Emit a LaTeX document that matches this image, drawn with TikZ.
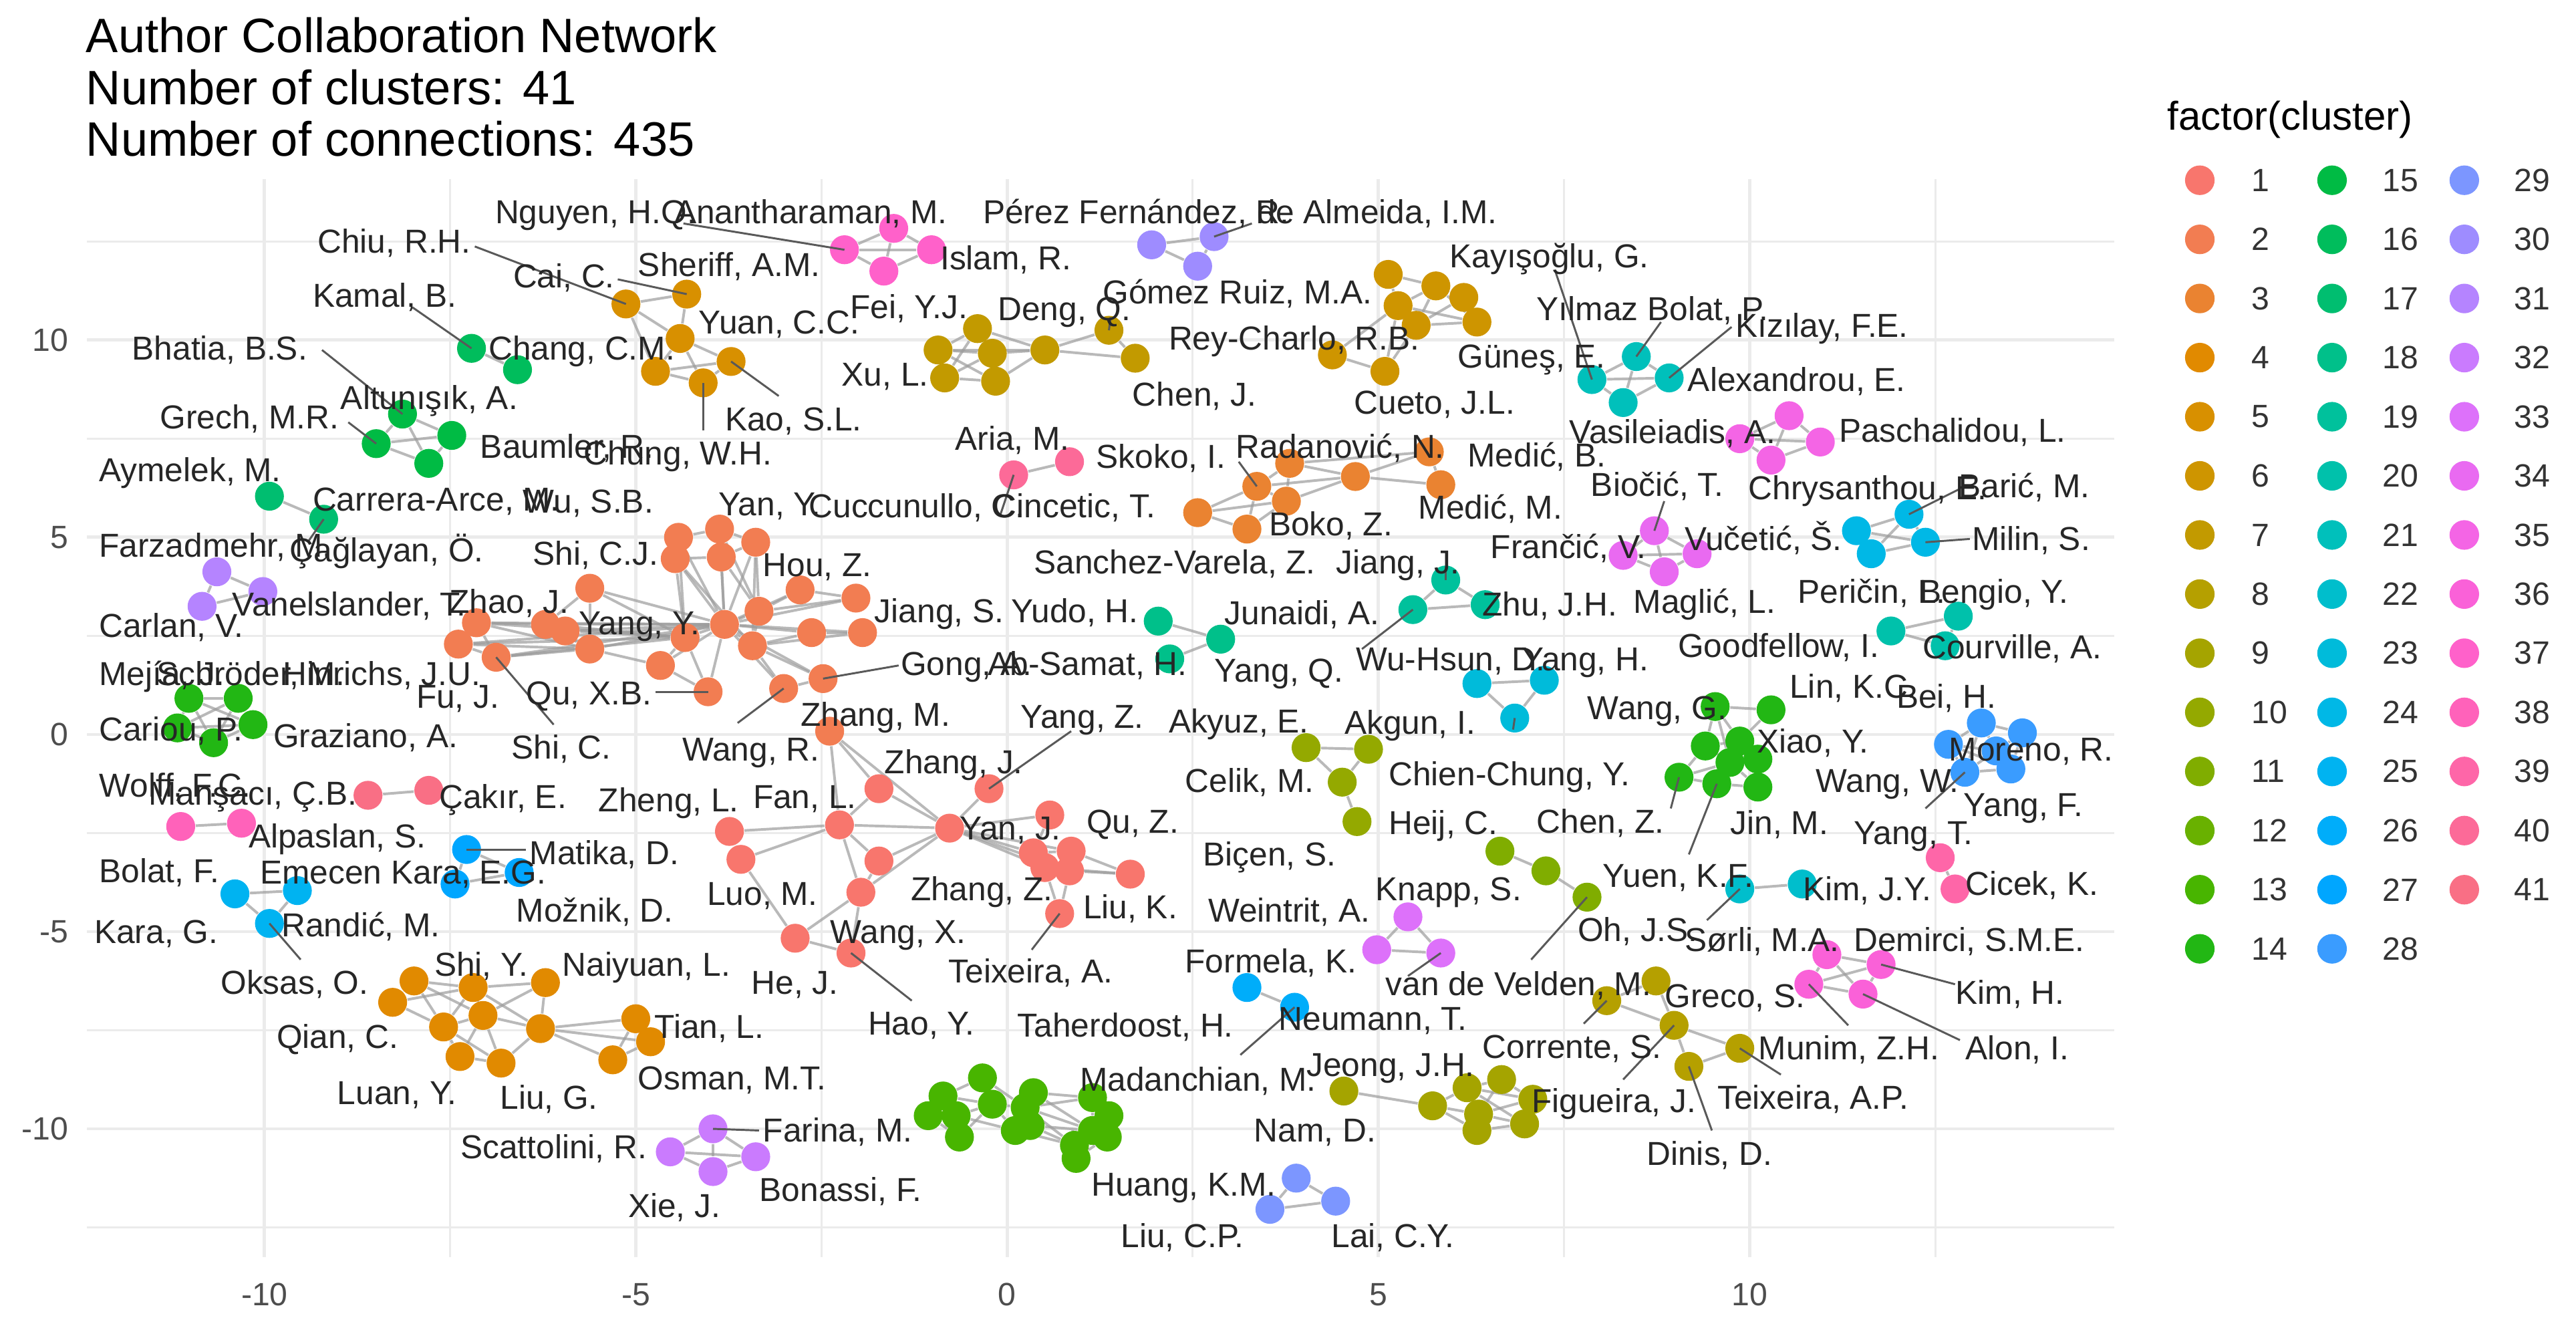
\documentclass[tikz,border=0pt]{standalone}
\usepackage{fontspec}
\setmainfont{Liberation Sans}
\pgfdeclarelayer{gridl}
\pgfdeclarelayer{edgel}
\pgfsetlayers{gridl,edgel,main}
\definecolor{c1}{HTML}{F8766D}\definecolor{c2}{HTML}{F27D52}\definecolor{c3}{HTML}{EA8331}
\definecolor{c4}{HTML}{E18A00}\definecolor{c5}{HTML}{D89000}\definecolor{c6}{HTML}{CE9500}
\definecolor{c7}{HTML}{C29A00}\definecolor{c8}{HTML}{B5A000}\definecolor{c9}{HTML}{A5A400}
\definecolor{c10}{HTML}{94A900}\definecolor{c11}{HTML}{80AD00}\definecolor{c12}{HTML}{69B100}
\definecolor{c13}{HTML}{48B500}\definecolor{c14}{HTML}{22B714}\definecolor{c15}{HTML}{00BB44}
\definecolor{c16}{HTML}{00BD5C}\definecolor{c17}{HTML}{00BE70}\definecolor{c18}{HTML}{00C08A}
\definecolor{c19}{HTML}{00C19C}\definecolor{c20}{HTML}{00C1AB}\definecolor{c21}{HTML}{00C0BB}
\definecolor{c22}{HTML}{00BECC}\definecolor{c23}{HTML}{00BBDA}\definecolor{c24}{HTML}{00B8E6}
\definecolor{c25}{HTML}{00B3F1}\definecolor{c26}{HTML}{00ADFA}\definecolor{c27}{HTML}{00A6FF}
\definecolor{c28}{HTML}{3A9CFF}\definecolor{c29}{HTML}{7C96FF}\definecolor{c30}{HTML}{9E8CFF}
\definecolor{c31}{HTML}{B584FF}\definecolor{c32}{HTML}{CA7BFE}\definecolor{c33}{HTML}{DD71FA}
\definecolor{c34}{HTML}{E96AF1}\definecolor{c35}{HTML}{F465E5}\definecolor{c36}{HTML}{FA61D8}
\definecolor{c37}{HTML}{FF61CA}\definecolor{c38}{HTML}{FF62BA}\definecolor{c39}{HTML}{FE66A8}
\definecolor{c40}{HTML}{FC6A98}\definecolor{c41}{HTML}{F96F85}
\definecolor{edgec}{HTML}{9C9C9C}
\definecolor{gridc}{HTML}{EBEBEB}
\definecolor{tickc}{HTML}{4D4D4D}
\tikzset{
  pnt/.style={circle, inner sep=0pt, minimum size=8.8pt, fill=#1, draw=none},
  lnk/.style={draw=edgec, line width=0.8pt, opacity=0.7},
  ldr/.style={draw=black!65, line width=0.6pt},
  lab/.style={anchor=base west, inner sep=0pt, font=\fontsize{10.1}{12}\selectfont, text=black!85},
  tck/.style={inner sep=0pt, font=\fontsize{9.8}{11}\selectfont, text=tickc},
  majgrid/.style={draw=gridc, line width=1pt},
  mingrid/.style={draw=gridc, line width=0.6pt},
}
\begin{document}
\begin{tikzpicture}[x=0.5pt,y=-0.5pt]
\useasboundingbox (0,0) rectangle (1568,813);
% background and grid
\begin{pgfonlayer}{gridl}
\fill[white] (0,0) rectangle (1568,813);
\foreach \x in {274,500,726,952,1178} \draw[mingrid] (\x,109) -- (\x,765);
\foreach \y in {147,267,387,507,627,747} \draw[mingrid] (53,\y) -- (1287,\y);
\foreach \x in {161,387,613,839,1065} \draw[majgrid] (\x,109) -- (\x,765);
\foreach \y in {207,327,447,567,687} \draw[majgrid] (53,\y) -- (1287,\y);
\end{pgfonlayer}
% axis tick labels
\foreach \v/\y in {10/207,5/327,0/447,-5/567,-10/687} \node[tck,anchor=east] (yt\y) at (42,\y) {\v};
\foreach \v/\x in {-10/161,-5/387,0/613,5/839,10/1065} \node[tck] (xt\x) at (\x,788) {\v};
% title
\node[anchor=base west, inner sep=0pt, font=\fontsize{14.7}{16}\selectfont] (ttl1) at (52,32) {Author Collaboration Network};
\node[anchor=base west, inner sep=0pt, font=\fontsize{14.7}{16}\selectfont] (ttl2) at (52,63.5) {Number of clusters: 41};
\node[anchor=base west, inner sep=0pt, font=\fontsize{14.7}{16}\selectfont] (ttl3) at (52,95) {Number of connections: 435};
% points
\foreach \n/\x/\y in {A1/535/480,A2/602/480,A3/511/502,A4/578/504,A5/444/506,A6/451/523,A7/535/524,A8/639/496,A9/629/519,A10/652/518,A11/651/530,A12/688/532,A13/524/543,A14/645/556,A15/484/571,A16/518/580,A17/636/528} \node[pnt=c1] (\n) at (\x,\y) {};
\foreach \n/\x/\y in {B1/359/358,B2/290/379,B3/279/392,B4/332/380,B5/344/384,B6/302/400,B7/359/395,B8/402/405,B9/417/388,B10/431/421,B11/413/327,B12/411/340,B13/438/322,B14/439/339,B15/441/380,B16/460/330,B17/462/372,B18/458/393,B19/487/359,B20/521/364,B21/494/385,B22/525/385,B23/501/413,B24/477/419,ZM/505/445} \node[pnt=c2] (\n) at (\x,\y) {};
\foreach \n/\x/\y in {C1/729/312,C2/759/322,C3/765/296,C4/783/305,C5/785/282,C6/825/290,C7/870/275,C8/877/295} \node[pnt=c3] (\n) at (\x,\y) {};
\foreach \n/\x/\y in {D1/239/610,D2/252/597,D3/288/601,D4/294/618,D5/270/625,D6/329/626,D7/332/598,D8/280/643,D9/305/647,D10/387/620,D11/396/634,D12/373/645} \node[pnt=c4] (\n) at (\x,\y) {};
\foreach \n/\x/\y in {E1/381/185,E2/418/179,E3/414/206,E4/445/220,E5/399/226,E6/428/233} \node[pnt=c5] (\n) at (\x,\y) {};
\foreach \n/\x/\y in {F1/811/216,F2/843/226,F3/845/167,F4/851/186,F5/862/198,F6/874/174,F7/891/181,F8/899/196} \node[pnt=c6] (\n) at (\x,\y) {};
\foreach \n/\x/\y in {G1/571/213,G2/575/230,G3/595/200,G4/604/215,G5/606/232,G6/636/213,G7/675/201,G8/691/218} \node[pnt=c7] (\n) at (\x,\y) {};
\foreach \n/\x/\y in {H1/978/609,H2/1008/597,H3/1019/624,H4/1059/638,H5/1028/649} \node[pnt=c8] (\n) at (\x,\y) {};
\foreach \n/\x/\y in {I1/818/664,I2/872/673,I3/893/662,I4/914/657,I5/933/669,I6/900/678,I7/928/684,I8/899/688} \node[pnt=c9] (\n) at (\x,\y) {};
\foreach \n/\x/\y in {J1/795/455,J2/833/456,J3/817/476,J4/826/500} \node[pnt=c10] (\n) at (\x,\y) {};
\foreach \n/\x/\y in {K1/913/518,K2/941/530,K3/966/546} \node[pnt=c11] (\n) at (\x,\y) {};
\foreach \n/\x/\y in {L1/574/667,L2/598/656,L3/582/679,L4/584/692,L5/565/679,L6/624/674,L7/629/665,L8/618/688,L9/627/685,L10/665/668,L11/675/679,L12/674/692,L13/654/697,L14/655/705,L15/665/688,L16/604/672} \node[pnt=c13] (\n) at (\x,\y) {};
\foreach \n/\x/\y in {M1/1044/430,M2/1078/432,M3/1038/454,M4/1059/451,M5/1070/462,M6/1022/473,M7/1045/477,M8/1070/479,M9/1053/464} \node[pnt=c14] (\n) at (\x,\y) {};
\foreach \n/\x/\y in {N1/115/425,N2/145/425,N3/108/443,N4/154/441,N5/130/452} \node[pnt=c14] (\n) at (\x,\y) {};
\foreach \n/\x/\y in {O1/245/252,O2/229/270,O3/275/265,O4/261/282} \node[pnt=c15] (\n) at (\x,\y) {};
\foreach \n/\x/\y in {P1/287/212,P2/315/225} \node[pnt=c16] (\n) at (\x,\y) {};
\foreach \n/\x/\y in {Q1/164/302,Q2/197/316} \node[pnt=c17] (\n) at (\x,\y) {};
\foreach \n/\x/\y in {R1/705/378,R2/743/389,R3/712/401} \node[pnt=c18] (\n) at (\x,\y) {};
\foreach \n/\x/\y in {S1/880/353,S2/860/371,S3/904/368} \node[pnt=c19] (\n) at (\x,\y) {};
\foreach \n/\x/\y in {T1/1151/384,T2/1192/375,T3/1184/393} \node[pnt=c20] (\n) at (\x,\y) {};
\foreach \n/\x/\y in {U1/996/217,U2/969/231,U3/1016/230,U4/988/245} \node[pnt=c21] (\n) at (\x,\y) {};
\foreach \n/\x/\y in {V1/1059/541,V2/1097/538} \node[pnt=c22] (\n) at (\x,\y) {};
\foreach \n/\x/\y in {W1/899/416,W2/940/414,W3/922/437} \node[pnt=c23] (\n) at (\x,\y) {};
\foreach \n/\x/\y in {X1/1162/313,X2/1130/323,X3/1172/330,X4/1139/337} \node[pnt=c24] (\n) at (\x,\y) {};
\foreach \n/\x/\y in {Y1/143/544,Y2/181/542,Y3/164/562} \node[pnt=c25] (\n) at (\x,\y) {};
\foreach \n/\x/\y in {Z1/759/601,Z2/788/613} \node[pnt=c26] (\n) at (\x,\y) {};
\foreach \n/\x/\y in {AA1/284/517,AA2/277/538,AA3/316/531} \node[pnt=c27] (\n) at (\x,\y) {};
\foreach \n/\x/\y in {AB1/1206/440,AB2/1231/446,AB3/1186/453,AB4/1215/457,AB5/1196/470,AB6/1224/468} \node[pnt=c28] (\n) at (\x,\y) {};
\foreach \n/\x/\y in {AC1/789/717,AC2/773/736,AC3/813/731} \node[pnt=c29] (\n) at (\x,\y) {};
\foreach \n/\x/\y in {AD1/701/149,AD2/739/144,AD3/729/162} \node[pnt=c30] (\n) at (\x,\y) {};
\foreach \n/\x/\y in {AE1/132/348,AE2/160/360,AE3/123/369} \node[pnt=c31] (\n) at (\x,\y) {};
\foreach \n/\x/\y in {AF1/408/701,AF2/434/687,AF3/460/704,AF4/434/713} \node[pnt=c32] (\n) at (\x,\y) {};
\foreach \n/\x/\y in {AG1/857/558,AG2/838/578,AG3/877/580} \node[pnt=c33] (\n) at (\x,\y) {};
\foreach \n/\x/\y in {AH1/1007/323,AH2/988/338,AH3/1033/337,AH4/1013/348} \node[pnt=c34] (\n) at (\x,\y) {};
\foreach \n/\x/\y in {AI1/1089/253,AI2/1059/267,AI3/1108/269,AI4/1078/280} \node[pnt=c35] (\n) at (\x,\y) {};
\foreach \n/\x/\y in {AJ1/1112/581,AJ2/1145/587,AJ3/1101/599,AJ4/1134/605} \node[pnt=c36] (\n) at (\x,\y) {};
\foreach \n/\x/\y in {AK1/544/139,AK2/514/152,AK3/567/152,AK4/538/165} \node[pnt=c37] (\n) at (\x,\y) {};
\foreach \n/\x/\y in {AL1/110/503,AL2/147/501} \node[pnt=c38] (\n) at (\x,\y) {};
\foreach \n/\x/\y in {AM1/1181/522,AM2/1190/541} \node[pnt=c39] (\n) at (\x,\y) {};
\foreach \n/\x/\y in {AN1/617/289,AN2/651/281} \node[pnt=c40] (\n) at (\x,\y) {};
\foreach \n/\x/\y in {AO1/224/484,AO2/261/481} \node[pnt=c41] (\n) at (\x,\y) {};
% edges
\begin{pgfonlayer}{edgel}
\foreach \a/\b in {ZM/A1,ZM/A3,ZM/A4,A1/A3,A1/A4,A3/A4,A3/A5,A5/A6,A3/A6,A3/A7,A4/A7,A2/A4,A4/A8,A4/A9,A4/A10,A4/A11,A4/A17,A8/A9,A9/A10,A10/A12,A11/A12,A17/A12,A4/A13,A7/A13,A3/A13,A13/A15,A13/A16,A15/A16,A11/A14,A17/A14,A9/A17,A10/A11,A6/A15} \draw[lnk] (\a) -- (\b);
\foreach \b in {B1,B2,B3,B4,B5,B6,B7,B8,B9,B10,B11,B12,B13,B14,B16,B17,B18,B19,B20,B21,B22,B23,B24} \draw[lnk] (B15) -- (\b);
\foreach \a/\b in {B1/B9,B2/B4,B2/B6,B3/B6,B2/B7,B3/B7,B4/B7,B5/B9,B6/B7,B6/B9,B7/B8,B8/B9,B2/B9,B3/B9,B4/B9,B11/B12,B11/B13,B12/B14,B13/B14,B13/B16,B14/B16,B12/B18,B13/B17,B16/B17,B17/B19,B17/B20,B18/B21,B18/B22,B19/B20,B21/B22,B17/B18,B18/B23,B18/B24,B23/B24,B8/B10,B9/B10,B12/B9,B11/B9,B14/B17,B16/B18,B1/B4,B1/B7} \draw[lnk] (\a) -- (\b);
\foreach \a/\b in {C1/C3,C1/C2,C2/C3,C3/C5,C3/C4,C4/C5,C2/C4,C3/C6,C4/C6,C5/C6,C6/C7,C6/C8,C7/C8,C5/C7,C1/C4} \draw[lnk] (\a) -- (\b);
\foreach \a/\b in {D1/D2,D1/D3,D2/D3,D1/D5,D2/D5,D3/D4,D3/D5,D3/D7,D4/D6,D4/D5,D5/D8,D4/D9,D6/D7,D6/D9,D8/D9,D6/D10,D6/D11,D6/D12,D10/D11,D10/D12,D11/D12,D3/D6,D4/D7,D2/D4,D5/D9,D4/D8} \draw[lnk] (\a) -- (\b);
\foreach \a/\b in {E1/E2,E1/E3,E2/E3,E3/E4,E3/E5,E3/E6,E4/E5,E4/E6,E5/E6,E1/E5} \draw[lnk] (\a) -- (\b);
\foreach \a/\b in {F1/F2,F1/F4,F2/F5,F3/F4,F3/F6,F4/F6,F4/F5,F5/F6,F5/F7,F6/F7,F7/F8,F5/F8,F4/F8,F6/F8,F2/F4} \draw[lnk] (\a) -- (\b);
\foreach \a/\b in {G1/G2,G1/G3,G1/G4,G1/G5,G2/G3,G2/G4,G2/G5,G3/G4,G3/G5,G4/G5,G4/G6,G3/G6,G5/G6,G1/G6,G6/G7,G6/G8,G7/G8} \draw[lnk] (\a) -- (\b);
\foreach \a/\b in {H1/H2,H1/H3,H2/H3,H3/H4,H3/H5,H4/H5} \draw[lnk] (\a) -- (\b);
\foreach \a/\b in {I1/I2,I2/I3,I2/I6,I2/I8,I3/I4,I3/I5,I3/I6,I4/I5,I5/I6,I5/I7,I6/I7,I6/I8,I7/I8,I3/I7,I4/I6,I3/I8} \draw[lnk] (\a) -- (\b);
\foreach \a/\b in {J1/J2,J1/J3,J2/J3,J3/J4,K1/K2,K2/K3} \draw[lnk] (\a) -- (\b);
\foreach \a/\b in {L1/L2,L1/L3,L1/L5,L2/L16,L3/L4,L3/L16,L5/L4,L5/L3,L16/L6,L16/L8,L6/L7,L6/L9,L7/L10,L6/L10,L9/L13,L8/L9,L10/L11,L11/L12,L12/L15,L13/L14,L13/L15,L10/L15,L14/L12,L9/L15,L3/L8,L2/L6,L1/L16,L7/L15,L6/L13,L8/L13,L6/L15,L11/L15,L14/L15,L4/L16} \draw[lnk] (\a) -- (\b);
\foreach \a/\b in {M1/M2,M1/M4,M1/M3,M2/M4,M3/M9,M4/M9,M5/M9,M6/M9,M7/M9,M8/M9,M3/M6,M6/M7,M7/M8,M5/M8,M4/M5,M3/M4,M1/M9} \draw[lnk] (\a) -- (\b);
\foreach \a/\b in {N1/N2,N1/N4,N2/N3,N3/N4,N3/N5,N4/N5,N1/N5,N2/N5,N1/N3,N2/N4,O1/O2,O1/O3,O2/O3,O2/O4,O3/O4,O1/O4} \draw[lnk] (\a) -- (\b);
\foreach \a/\b in {P1/P2,Q1/Q2,R1/R2,R2/R3,S1/S2,S1/S3,S2/S3,T1/T2,T1/T3,T2/T3,U1/U2,U1/U4,U2/U3,U2/U4,U3/U4,U1/U3,V1/V2,W1/W2,W1/W3,W2/W3,X1/X2,X1/X3,X1/X4,X2/X3,X2/X4,X3/X4,Y1/Y2,Y1/Y3,Y2/Y3,Z1/Z2} \draw[lnk] (\a) -- (\b);
\foreach \a/\b in {AA1/AA2,AA1/AA3,AA2/AA3,AB1/AB2,AB1/AB3,AB1/AB4,AB2/AB4,AB3/AB4,AB3/AB5,AB4/AB5,AB4/AB6,AB5/AB6,AB2/AB6,AB1/AB5,AB3/AB6,AC1/AC3,AC2/AC3,AC1/AC2,AD1/AD2,AD1/AD3,AD2/AD3,AE1/AE2,AE2/AE3,AE1/AE3} \draw[lnk] (\a) -- (\b);
\foreach \a/\b in {AF1/AF2,AF1/AF3,AF1/AF4,AF2/AF3,AF2/AF4,AF3/AF4,AG1/AG2,AG1/AG3,AG2/AG3,AH1/AH2,AH1/AH3,AH1/AH4,AH2/AH3,AH2/AH4,AH3/AH4,AI1/AI2,AI1/AI3,AI1/AI4,AI2/AI3,AI2/AI4,AI3/AI4} \draw[lnk] (\a) -- (\b);
\foreach \a/\b in {AJ1/AJ2,AJ1/AJ3,AJ1/AJ4,AJ2/AJ3,AJ2/AJ4,AJ3/AJ4,AK1/AK2,AK1/AK3,AK1/AK4,AK2/AK3,AK2/AK4,AK3/AK4,AL1/AL2,AM1/AM2,AN1/AN2,AO1/AO2} \draw[lnk] (\a) -- (\b);
\end{pgfonlayer}
% leader segments
\foreach \n/\x/\y/\p in {l1/289/150/E1,l2/376/170/E2,l3/416/136/AK2,l4/762/136/AD2,l5/251/187/P1,l6/676/193/G7,l7/947/166/U2,l8/1011/196/U1,l9/1054/199/U3,l10/196/213/O1,l11/212/257/O2,l12/474/241/E4,l13/428/262/E6,l14/754/281/C3,l15/1013/305/AH1,l16/1192/298/X1,l17/609/313/AN1,l18/1199/328/X3,l19/880/345/S1,l20/829/395/S2,l21/547/405/B23,l22/399/421/B10,l23/652/445/A2,l24/337/441/B6,l25/449/440/B24,l26/921/444/W3,l27/1172/492/AB5,l28/1017/492/M6,l29/320/517/AA1,l30/1028/520/M7,l31/1039/560/V1,l32/628/578/A14,l33/183/584/Y3,l34/932/584/K3,l35/857/594/AG3,l36/1190/599/AJ2,l37/555/609/A16,l38/755/642/Z2,l39/964/623/H1,l40/1125/624/AJ3,l41/1193/633/AJ4,l42/1084/654/H4,l43/988/657/H3,l44/462/688/AF2,l45/1042/688/H5,l46/188/329/Q2}
  {\coordinate (\n) at (\x,\y); \draw[ldr] (\n) -- (\p.center);}
% labels
\foreach \n/\x/\y/\t in {t1/193/147/{Chiu, R.H.},t2/312/168/{Cai, C.},t3/388/161/{Sheriff, A.M.},t4/301/129/{Nguyen, H.Q.},t5/410/129/{Anantharaman, M.},t6/598/129/{Pérez Fernández, R.},t7/765/129/{de Almeida, I.M.},t8/572/157/{Islam, R.},t9/190/180/{Kamal, B.},t10/425/196/{Yuan, C.C.},t11/517/187/{Fei, Y.J.},t12/607/188/{Deng, Q.},t13/671/178/{Gómez Ruiz, M.A.},t14/882/156/{Kayışoğlu, G.},t15/935/188/{Yılmaz Bolat, P.},t16/1056/198/{Kızılay, F.E.},t17/711/206/{Rey-Charlo, R.B.},t18/80/212/{Bhatia, B.S.},t19/297/212/{Chang, C.M.},t20/512/228/{Xu, L.},t21/887/217/{Güneş, E.},t22/1027/231/{Alexandrou, E.},t23/689/240/{Chen, J.},t24/207/242/{Altunışık, A.},t25/824/245/{Cueto, J.L.},t26/97/254/{Grech, M.R.},t27/441/255/{Kao, S.L.},t28/955/263/{Vasileiadis, A.},t29/1119/262/{Paschalidou, L.},t30/581/267/{Aria, M.},t31/292/272/{Baumler, R.},t32/355/276/{Chung, W.H.},t33/752/272/{Radanović, N.},t34/893/277/{Medić, B.},t35/667/278/{Skoko, I.},t36/60/286/{Aymelek, M.},t37/968/295/{Biočić, T.},t38/1064/297/{Chrysanthou, E.},t39/1192/296/{Barić, M.},t40/190/304/{Carrera-Arce, M.}}
  {\node[lab] (\n) at (\x,\y+7) {\t};}
\foreach \n/\x/\y/\t in {t41/318/305/{Wu, S.B.},t42/437/307/{Yan, Y.},t43/492/308/{Cuccunullo, C.},t44/604/308/{Cincetic, T.},t45/863/309/{Medić, M.},t46/772/319/{Boko, Z.},t47/1200/328/{Milin, S.},t48/60/332/{Farzadmehr, M.},t49/176/335/{Çağlayan, Ö.},t50/324/337/{Shi, C.J.},t51/907/333/{Frančić, V.},t52/1025/328/{Vučetić, Š.},t53/629/342/{Sanchez-Varela, Z.},t54/813/342/{Jiang, J.},t55/464/344/{Hou, Z.},t56/994/366/{Maglić, L.},t57/1094/360/{Peričin, L.},t58/1168/360/{Bengio, Y.},t59/141/368/{Vanelslander, T.},t60/273/366/{Zhao, J.},t61/532/372/{Jiang, S.},t62/615/372/{Yudo, H.},t63/745/373/{Junaidi, A.},t64/902/368/{Zhu, J.H.},t65/60/381/{Carlan, V.},t66/352/379/{Yang, Y.},t67/1021/393/{Goodfellow, I.},t68/1170/394/{Courville, A.},t69/825/401/{Wu-Hsun, D.},t70/926/401/{Yang, H.},t71/548/404/{Gong, A.},t72/601/404/{Ab-Samat, H.},t73/739/408/{Yang, Q.},t74/60/410/{Mejía, J.},t75/95/410/{Schröder, M.},t76/172/410/{Hinrichs, J.U.},t77/1089/418/{Lin, K.C.},t78/253/424/{Fu, J.},t79/320/422/{Qu, X.B.},t80/1154/424/{Bei, H.}}
  {\node[lab] (\n) at (\x,\y+7) {\t};}
\foreach \n/\x/\y/\t in {t81/966/431/{Wang, G.},t82/487/435/{Zhang, M.},t83/621/436/{Yang, Z.},t84/711/439/{Akyuz, E.},t85/818/440/{Akgun, I.},t86/60/444/{Cariou, P.},t87/166/448/{Graziano, A.},t88/1069/451/{Xiao, Y.},t89/1186/456/{Moreno, R.},t90/311/455/{Shi, C.},t91/415/456/{Wang, R.},t92/538/464/{Zhang, J.},t93/845/471/{Chien-Chung, Y.},t94/721/475/{Celik, M.},t95/1105/475/{Wang, W.},t96/60/478/{Wolff, F.C.},t97/90/483/{Manşacı, Ç.B.},t98/267/485/{Çakır, E.},t99/458/485/{Fan, L.},t100/364/487/{Zheng, L.},t101/1195/490/{Yang, F.},t102/845/501/{Heij, C.},t103/935/500/{Chen, Z.},t104/1053/501/{Jin, M.},t105/661/500/{Qu, Z.},t106/584/504/{Yan, J.},t107/1128/507/{Yang, T.},t108/151/509/{Alpaslan, S.},t109/322/519/{Matika, D.},t110/732/520/{Biçen, S.},t111/158/531/{Emecen Kara, E.G.},t112/60/530/{Bolat, F.},t113/975/533/{Yuen, K.F.},t114/1196/538/{Cicek, K.},t115/1097/541/{Kim, J.Y.},t116/837/541/{Knapp, S.},t117/554/541/{Zhang, Z.},t118/430/544/{Luo, M.},t119/659/552/{Liu, K.},t120/314/554/{Možnik, D.}}
  {\node[lab] (\n) at (\x,\y+7) {\t};}
\foreach \n/\x/\y/\t in {t121/735/554/{Weintrit, A.},t122/171/563/{Randić, M.},t123/57/567/{Kara, G.},t124/960/566/{Oh, J.S.},t125/505/567/{Wang, X.},t126/1025/572/{Sørli, M.A.},t127/1128/572/{Demirci, S.M.E.},t128/721/585/{Formela, K.},t129/264/587/{Shi, Y.},t130/342/587/{Naiyuan, L.},t131/577/591/{Teixeira, A.},t132/134/598/{Oksas, O.},t133/457/598/{He, J.},t134/843/599/{van de Velden, M.},t135/1190/604/{Kim, H.},t136/1013/606/{Greco, S.},t137/778/620/{Neumann, T.},t138/528/623/{Hao, Y.},t139/619/624/{Taherdoost, H.},t140/398/625/{Tian, L.},t141/168/631/{Qian, C.},t142/902/637/{Corrente, S.},t143/1070/638/{Munim, Z.H.},t144/1196/638/{Alon, I.},t145/795/648/{Jeong, J.H.},t146/388/656/{Osman, M.T.},t147/657/657/{Madanchian, M.},t148/205/665/{Luan, Y.},t149/304/668/{Liu, G.},t150/1045/668/{Teixeira, A.P.},t151/932/670/{Figueira, J.},t152/464/688/{Farina, M.},t153/763/688/{Nam, D.},t154/280/698/{Scattolini, R.},t155/1002/702/{Dinis, D.},t156/664/721/{Huang, K.M.},t157/462/724/{Bonassi, F.},t158/382/734/{Xie, J.},t159/682/752/{Liu, C.P.},t160/810/752/{Lai, C.Y.}}
  {\node[lab] (\n) at (\x,\y+7) {\t};}
% legend
\node[anchor=base west, inner sep=0pt, font=\fontsize{12.2}{14}\selectfont] (lgt) at (1319,79) {factor(cluster)};
\foreach \k in {1,...,41}{
  \pgfmathtruncatemacro\cc{(\k-1)/14}
  \pgfmathtruncatemacro\rr{\k-1-14*\cc}
  \node[pnt=c\k, minimum size=9pt] (lg\k) at ({1339+80.5*\cc},{109.7+35.98*\rr}) {};
  \node[anchor=west, inner sep=0pt, font=\fontsize{9.8}{11}\selectfont, text=black!80] (lt\k) at ({1370+80*\cc},{109.7+35.98*\rr}) {\k};
}
\end{tikzpicture}
\end{document}
